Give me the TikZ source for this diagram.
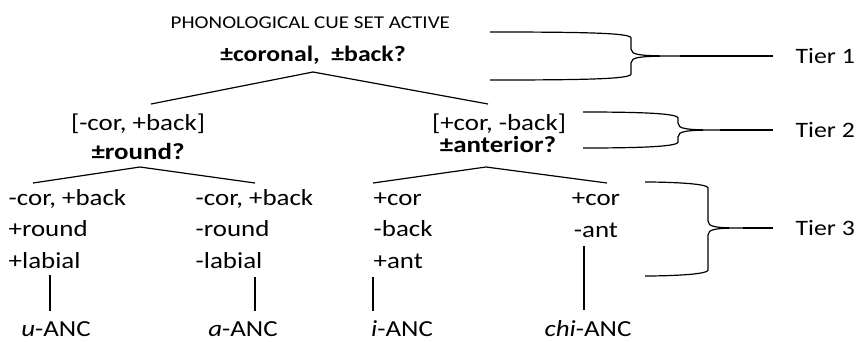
\documentclass[tikz,border=0pt]{standalone}
\usepackage{fontspec}
\setmainfont{Carlito}
\usetikzlibrary{positioning}

% curly bracket that gathers one tier and points at its label
% #1 arm start x, #2 spine x, #3 tip x, #4 top y, #5 middle y, #6 bottom y, #7 end coordinate
\newcommand{\tierbrace}[7]{%
  \draw (#1,#4) .. controls (#2-45,#4) and (#2,#4+1) .. (#2,#4+6)
    -- (#2,#5-7) .. controls (#2,#5-1) and (#2+8,#5) .. (#3,#5)
    .. controls (#2+8,#5) and (#2,#5+1) .. (#2,#5+7)
    -- (#2,#6-6) .. controls (#2,#6-1) and (#2-45,#6) .. (#1,#6);
  \draw (#3,#5) -- (#7);}

\begin{document}
\begin{tikzpicture}[x=1pt, y=-1pt, line width=1.2pt,
    every node/.style={inner sep=0pt, xscale=1.17},
    cue/.style={font=\fontsize{18}{22}\selectfont},
    feat/.style={font=\fontsize{23}{31.5}\selectfont, align=left},
    ask/.style={font=\fontsize{23}{28}\selectfont\bfseries},
    tier/.style={font=\fontsize{22}{28}\selectfont},
    stem/.style={shorten >=9pt}]
  \useasboundingbox (0,0) rectangle (857,341);

  % tier 1
  \node[cue, anchor=base west] (cueset) at (170,28) {PHONOLOGICAL CUE SET ACTIVE};
  \node[ask, font=\fontsize{22}{28}\selectfont\bfseries, anchor=base] (root) at (313,61) {±coronal,\ \ ±back?};

  % tier 2
  \node[feat, anchor=base] (backset) at (138,130) {[-cor, +back]};
  \node[ask, anchor=base] (round) at (138,159) {±round?};
  \node[feat, anchor=base] (frontset) at (499,130) {[+cor, -back]};
  \node[ask, anchor=base] (ant) at (498,152) {±anterior?};

  % tier 3 (base = last line)
  \node[feat, anchor=base west] (uleaf) at (8,268) {-cor, +back\\+round\\+labial};
  \node[feat, anchor=base west] (aleaf) at (195,268) {-cor, +back\\-round\\-labial};
  \node[feat, anchor=base west] (ileaf) at (373,268) {+cor\\-back\\+ant};
  \node[feat, align=center, anchor=base] (chileaf) at (596,237) {+cor\\-ant};

  % sounds
  \node[feat, anchor=base] (uanc) at (56,336) {\textit{u}-ANC};
  \node[feat, anchor=base] (aanc) at (243,336) {\textit{a}-ANC};
  \node[feat, anchor=base] (ianc) at (402,336) {\textit{i}-ANC};
  \node[feat, anchor=base] (chianc) at (588,336) {\textit{chi}-ANC};

  % branch points
  \coordinate (rootfork) at (313,72);
  \coordinate (backtop) at (151,104);
  \coordinate (fronttop) at (488,104);
  \coordinate (roundfork) at (140,167);
  \coordinate (uend) at (33,183);
  \coordinate (aend) at (255,183);
  \coordinate (antfork) at (486,167);
  \coordinate (iend) at (373,183);
  \coordinate (chiend) at (607,183);
  \coordinate (ulink) at (50,275);
  \coordinate (alink) at (255,277);
  \coordinate (ilink) at (373,277);
  \coordinate (chilink) at (584,246);

  \draw (backtop) -- (rootfork) -- (fronttop);
  \draw (uend) -- (roundfork) -- (aend);
  \draw (iend) -- (antfork) -- (chiend);

  \draw[stem] (ulink) -- (ulink |- uanc.north);
  \draw[stem] (alink) -- (alink |- aanc.north);
  \draw[stem] (ilink) -- (ilink |- ianc.north);
  \draw[stem] (chilink) -- (chilink |- chianc.north);

  % tier labels
  \coordinate (tipA) at (773,56);
  \coordinate (tipB) at (773,130);
  \coordinate (tipC) at (773,228);
  \node[tier, right=22pt of tipA] (tierA) {Tier 1};
  \node[tier, right=22pt of tipB] (tierB) {Tier 2};
  \node[tier, right=22pt of tipC] (tierC) {Tier 3};

  \tierbrace{490}{631}{680}{32}{56}{80}{tipA}
  \tierbrace{583}{678}{720}{112}{130}{148}{tipB}
  \tierbrace{645}{708}{743}{182}{228}{276}{tipC}
\end{tikzpicture}
\end{document}
